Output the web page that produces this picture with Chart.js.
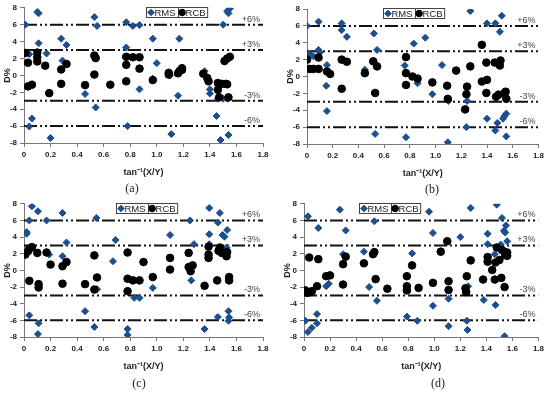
<!DOCTYPE html>
<html>
<head>
<meta charset="utf-8">
<script src="https://cdn.jsdelivr.net/npm/chart.js@4.4.1/dist/chart.umd.min.js"></script>
<style>
  body { margin: 0; background: #fff; }
  #wrap { position: relative; width: 547px; height: 395px; overflow: hidden; }
  canvas { position: absolute; }
  .cap { position: absolute; font-family: "Liberation Serif", serif; font-size: 12px; color: #222;
         transform: translate(-50%, -50%); white-space: nowrap; }
</style>
</head>
<body>
<div id="wrap">
  <canvas id="chartA" width="273" height="196" style="left:0;top:0"></canvas>
  <canvas id="chartB" width="274" height="196" style="left:273px;top:0"></canvas>
  <canvas id="chartC" width="273" height="199" style="left:0;top:196px"></canvas>
  <canvas id="chartD" width="274" height="199" style="left:273px;top:196px"></canvas>
  <div class="cap" style="left:132px;top:188px">(a)</div>
  <div class="cap" style="left:432px;top:189px">(b)</div>
  <div class="cap" style="left:139px;top:383px">(c)</div>
  <div class="cap" style="left:438px;top:383px">(d)</div>
</div>
<script>
// values: [tan^-1(X/Y), D%]
const rmsA = [[0.01,6.0],[0.04,2.5],[0.1,7.5],[0.11,7.35],[0.11,3.8],[0.17,2.6],[0.2,-7.4],[0.04,-6.05],[0.06,-5.1],
  [0.28,4.35],[0.32,3.6],[0.29,1.75],[0.46,-2.2],[0.53,6.9],[0.55,5.85],[0.54,-3.8],[0.77,6.3],[0.77,3.3],[0.78,-6.0],
  [0.82,5.85],[0.87,5.95],[0.87,-1.65],[0.97,4.35],[0.97,-0.4],[1.0,1.45],[1.11,-6.95],[1.1,0.0],[1.17,4.35],[1.16,-2.4],
  [1.36,0.5],[1.4,-1.65],[1.4,-2.15],[1.45,-4.8],[1.46,-2.75],[1.48,-7.65],[1.5,-2.75],[1.5,6.0],[1.53,7.6],[1.54,7.35],
  [1.55,7.9],[1.54,-7.05],[1.53,-2.75]];
const rcbA = [[0.01,2.65],[0.03,1.5],[0.03,-1.3],[0.06,-1.1],[0.1,2.7],[0.1,2.15],[0.1,1.65],[0.16,1.15],[0.19,-2.1],
  [0.28,0.7],[0.28,-1.0],[0.32,1.35],[0.46,-1.15],[0.53,2.35],[0.54,2.05],[0.53,0.1],[0.65,-1.1],[0.77,2.2],[0.77,1.25],
  [0.77,-0.7],[0.82,2.15],[0.87,2.15],[0.87,0.8],[0.97,-0.55],[1.09,0.3],[1.09,0.1],[1.16,0.25],[1.17,0.5],[1.19,0.65],
  [1.19,0.85],[1.35,0.2],[1.38,-0.3],[1.39,-0.7],[1.46,-0.9],[1.46,-1.7],[1.47,-2.6],[1.49,-1.0],[1.52,-1.0],[1.53,-1.05],
  [1.54,-2.6],[1.51,1.7],[1.53,2.0],[1.55,2.2]];

const rmsB = [[0.0,6.0],[0.02,2.7],[0.03,2.5],[0.05,2.4],[0.09,6.5],[0.09,3.15],[0.1,2.85],[0.155,1.35],[0.15,-1.1],
  [0.155,-4.1],[0.27,6.3],[0.27,5.5],[0.31,4.7],[0.45,0.8],[0.52,5.1],[0.545,3.15],[0.53,-6.8],[0.77,-7.2],[0.76,1.3],
  [0.83,3.9],[0.92,4.6],[0.86,-0.8],[0.975,-2.1],[1.05,1.35],[1.1,-2.9],[1.095,-7.8],[1.27,7.75],[1.245,-2.9],[1.24,-6.0],
  [1.36,-0.6],[1.4,6.3],[1.4,-5.0],[1.465,6.3],[1.515,7.2],[1.5,5.3],[1.465,-6.4],[1.48,-5.5],[1.525,-5.0],[1.535,-4.7],
  [1.55,-4.4],[1.55,-7.1]];
const rcbB = [[0.0,2.0],[0.02,0.9],[0.05,0.9],[0.09,0.9],[0.09,2.25],[0.155,0.6],[0.18,0.3],[0.27,2.0],[0.31,1.75],
  [0.27,-1.45],[0.45,0.4],[0.515,1.8],[0.545,1.2],[0.53,-1.95],[0.77,2.3],[0.77,0.4],[0.77,-1.0],[0.82,0.0],[0.86,-0.25],
  [0.975,-0.7],[1.09,-1.1],[1.095,-2.65],[1.16,0.7],[1.24,-2.1],[1.245,-1.2],[1.23,-3.9],[1.27,1.2],[1.36,3.75],[1.36,-0.6],
  [1.395,1.65],[1.4,-0.4],[1.395,-1.95],[1.46,1.65],[1.47,-2.4],[1.49,-2.15],[1.5,1.3],[1.505,1.9],[1.535,-1.95],
  [1.55,-2.65],[1.545,-1.8]];

const rmsC = [[0.02,4.6],[0.02,4.4],[0.04,6.0],[0.06,7.7],[0.105,7.1],[0.17,6.0],[0.19,1.9],[0.29,6.9],[0.29,1.7],
  [0.32,3.35],[0.04,-5.4],[0.11,-6.35],[0.105,-7.65],[0.46,-4.9],[0.53,-6.8],[0.545,6.3],[0.55,-2.25],[0.67,1.1],[0.69,3.65],
  [0.78,-7.05],[0.78,-7.75],[0.83,-3.3],[0.87,-3.3],[0.97,-2.1],[1.1,4.25],[1.25,6.0],[1.26,-1.2],[1.28,3.15],[1.36,-7.05],
  [1.395,7.5],[1.395,4.35],[1.395,3.15],[1.46,5.75],[1.46,-5.6],[1.475,6.9],[1.495,4.25],[1.51,4.05],[1.525,2.75],
  [1.53,4.85],[1.54,-4.9],[1.54,-6.05],[1.545,-5.65]];
const rcbC = [[0.01,1.9],[0.03,2.3],[0.04,2.6],[0.06,2.8],[0.04,-1.25],[0.1,2.1],[0.11,-1.65],[0.11,-2.05],[0.17,2.15],
  [0.2,0.7],[0.29,0.5],[0.32,1.0],[0.29,-1.6],[0.46,-1.65],[0.53,1.8],[0.55,-0.85],[0.53,-2.3],[0.78,2.15],[0.78,-1.0],
  [0.78,-2.5],[0.82,-1.2],[0.87,-1.2],[0.9,1.0],[0.97,-0.8],[1.1,1.5],[1.1,0.1],[1.24,2.1],[1.24,0.4],[1.255,-0.1],
  [1.27,0.6],[1.36,-1.85],[1.39,2.85],[1.39,1.9],[1.39,1.5],[1.455,-1.2],[1.465,2.35],[1.475,2.75],[1.49,2.1],[1.51,2.1],
  [1.525,1.7],[1.53,2.2],[1.545,-0.8],[1.545,-1.2]];

const rmsD = [[0.01,-6.05],[0.03,6.5],[0.03,-7.4],[0.06,-6.9],[0.1,-6.35],[0.1,-5.25],[0.11,5.1],[0.17,-1.9],[0.19,-1.6],
  [0.275,7.3],[0.3,1.95],[0.32,4.8],[0.46,2.25],[0.5,-2.0],[0.54,5.9],[0.56,-3.65],[0.79,-5.55],[0.83,2.05],[0.87,-6.05],
  [0.96,7.05],[0.99,4.5],[0.99,-4.25],[1.11,-3.4],[1.11,-6.7],[1.2,4.0],[1.25,-6.05],[1.255,-7.15],[1.26,-1.9],[1.28,7.5],
  [1.38,-3.55],[1.41,4.4],[1.41,3.15],[1.465,1.95],[1.47,-4.15],[1.48,7.9],[1.51,3.1],[1.52,6.3],[1.535,4.75],[1.545,4.55],
  [1.55,5.4],[1.56,3.5],[1.54,-7.9]];
const rcbD = [[0.01,-2.4],[0.025,-2.7],[0.04,1.55],[0.05,-2.6],[0.06,-2.5],[0.1,-1.9],[0.11,1.35],[0.17,-0.7],[0.2,-0.6],
  [0.3,0.75],[0.3,-1.7],[0.32,1.65],[0.46,0.85],[0.53,1.95],[0.54,2.2],[0.55,-1.05],[0.64,-2.2],[0.79,-0.7],[0.79,-1.9],
  [0.79,-2.4],[0.83,0.6],[0.88,-2.1],[0.99,-1.5],[1.05,2.25],[1.1,3.5],[1.11,-1.3],[1.11,-2.35],[1.24,-2.15],[1.245,-2.6],
  [1.25,-0.7],[1.28,1.2],[1.375,-1.1],[1.41,1.6],[1.41,1.05],[1.445,0.05],[1.465,-1.1],[1.47,0.95],[1.48,2.75],[1.5,1.25],
  [1.515,-0.9],[1.52,2.45],[1.54,2.2],[1.545,1.85],[1.54,-2.0],[1.56,2.15],[1.56,1.75]];

const refLevels = [6, 3, -3, -6];
const refLabels = ['+6%', '+3%', '-3%', '-6%'];
const xRange = [0, 1.8];
const yRange = [-8, 8];
const seriesNames = ['RMS', 'RCB'];

const BLUE = '#1d4f8e';
Chart.defaults.font.family = '"Liberation Sans", Arial, sans-serif';
Chart.defaults.color = '#222';

const toPts = arr => arr.map(p => ({x: p[0], y: p[1]}));

// +6% / +3% ... labels at the right end of the reference lines
const refText = {
  id: 'refText',
  afterDatasetsDraw(chart) {
    const {ctx, chartArea, scales} = chart;
    ctx.save();
    ctx.font = '9px "Liberation Sans", Arial, sans-serif';
    ctx.fillStyle = '#444';
    ctx.textAlign = 'right';
    ctx.textBaseline = 'middle';
    refLevels.forEach((v, i) => {
      ctx.fillText(refLabels[i], chartArea.right - 3, scales.y.getPixelForValue(v) - 5.5);
    });
    ctx.restore();
  }
};

// excel-like boxed legend sitting inside the plot
const boxLegend = {
  id: 'boxLegend',
  afterDraw(chart, args, opts) {
    const {ctx, chartArea} = chart;
    const sets = chart.data.datasets.filter(d => d.showInBox);
    ctx.save();
    ctx.font = '9.5px "Liberation Sans", Arial, sans-serif';
    const cells = sets.map(d => 8 + ctx.measureText(d.label).width + 2);
    const total = cells.reduce((a, b) => a + b, 0);
    const h = 10;
    let x = Math.round(chartArea.left + opts.cx * chartArea.width - total / 2) + 0.5;
    const top = Math.round(chartArea.top) - 0.5;
    ctx.fillStyle = '#fff';
    ctx.fillRect(x, top, total, h);
    ctx.strokeStyle = '#444';
    ctx.lineWidth = 1;
    ctx.strokeRect(x, top, total, h);
    sets.forEach((d, i) => {
      const cy = top + h / 2;
      ctx.fillStyle = d.backgroundColor;
      ctx.strokeStyle = d.borderColor;
      Chart.helpers.drawPoint(ctx, {pointStyle: d.pointStyle, radius: d.pointStyle === 'circle' ? 3.3 : 3.3, rotation: 0, borderWidth: 1}, x + 4.5, cy);
      ctx.fillStyle = '#222';
      ctx.textAlign = 'left';
      ctx.textBaseline = 'middle';
      ctx.fillText(d.label, x + 8, cy + 0.5);
      x += cells[i];
      if (i < sets.length - 1) {
        ctx.strokeStyle = '#444';
        ctx.beginPath();
        ctx.moveTo(Math.round(x) + 0.5, top);
        ctx.lineTo(Math.round(x) + 0.5, top + h);
        ctx.stroke();
      }
    });
    ctx.restore();
  }
};

function makeChart(id, rms, rcb, lay) {
  const refSets = refLevels.map(v => ({
    type: 'line',
    data: [{x: xRange[0], y: v}, {x: xRange[1], y: v}],
    borderColor: '#111',
    borderWidth: 2,
    borderDash: [13, 3, 2, 3, 2, 3],
    pointRadius: 0,
    order: 2
  }));
  new Chart(document.getElementById(id), {
    type: 'scatter',
    data: {
      datasets: [
        {label: seriesNames[0], data: toPts(rms), pointStyle: 'rectRot', pointRadius: 3.5,
         backgroundColor: BLUE, borderColor: BLUE, borderWidth: 1, order: 1, showInBox: true},
        {label: seriesNames[1], data: toPts(rcb), pointStyle: 'circle', pointRadius: 3.8,
         backgroundColor: '#000', borderColor: '#000', borderWidth: 1, order: 0, showInBox: true},
        ...refSets
      ]
    },
    plugins: [refText, boxLegend],
    options: {
      responsive: false,
      animation: false,
      devicePixelRatio: 1,
      layout: {padding: {left: 0, top: lay.top, right: lay.right, bottom: lay.bottom}},
      plugins: {
        legend: {display: false},
        tooltip: {enabled: false},
        boxLegend: {cx: lay.cx}
      },
      scales: {
        x: {
          type: 'linear', min: xRange[0], max: xRange[1],
          ticks: {stepSize: 0.2, font: {size: 8, weight: 'bold'}, color: '#222', padding: 3, maxRotation: 0, autoSkip: false},
          grid: {drawOnChartArea: false, tickLength: 4, color: '#777'},
          border: {color: '#777', width: 1},
          title: {display: true, text: 'tan⁻¹(X/Y)', font: {size: 9, weight: 'bold'}, color: '#222', padding: 0},
          afterFit: s => { s.height = 35; }
        },
        y: {
          min: yRange[0], max: yRange[1],
          ticks: {stepSize: 2, font: {size: 8, weight: 'bold'}, color: '#222', padding: 3},
          grid: {drawOnChartArea: false, tickLength: 4, color: '#777'},
          border: {color: '#777', width: 1},
          title: {display: true, text: 'D%', font: {size: 9, weight: 'bold'}, color: '#222', padding: {top: lay.ytp, bottom: 0}},
          afterFit: s => { s.width = lay.yw; }
        }
      }
    }
  });
}

makeChart('chartA', rmsA, rcbA, {top: 7, right: 10, bottom: 18, yw: 24, ytp: 2.6, cx: 0.638});
makeChart('chartB', rmsB, rcbB, {top: 9, right: 7, bottom: 17, yw: 34, ytp: 12.6, cx: 0.462});
makeChart('chartC', rmsC, rcbC, {top: 6, right: 10, bottom: 23, yw: 24, ytp: 2.6, cx: 0.512});
makeChart('chartD', rmsD, rcbD, {top: 6, right: 7, bottom: 23, yw: 31, ytp: 9.6, cx: 0.366});
</script>
</body>
</html>
